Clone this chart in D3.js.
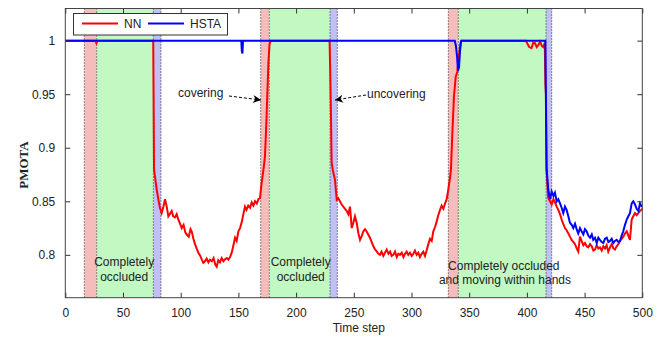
<!DOCTYPE html>
<html>
<head>
<meta charset="utf-8">
<script src="https://cdn.jsdelivr.net/npm/d3@7"></script>
<style>
  body { margin: 0; background: #fff; }
  svg { display: block; font-family: "Liberation Sans", Arial, sans-serif; }
  .tick text { font-size: 12px; fill: #222; }
  .note { font-size: 12px; fill: #222; }
</style>
</head>
<body>
<svg width="668" height="337"></svg>
<script>
// episode boundaries (time steps)
const coverStart   = [16.5, 169.3, 331.9];
const occludeStart = [27.2, 176.8, 340.6];
const uncoverStart = [76.3, 229.4, 416.6];
const uncoverEnd   = [82.9, 235.7, 421.5];

const xTicks = [0, 50, 100, 150, 200, 250, 300, 350, 400, 450, 500];
const yTicks = [0.8, 0.85, 0.9, 0.95, 1];

// NN series [time step, PMOTA]
const nnSeries = [
  [0,1],[26,1],[27,0.9975],[28,1],[76.2,1],[76.5,0.95],[76.9,0.8795],[77.7,0.873],[79.2,0.861],
  [80.6,0.852],[82,0.844],[83.5,0.839],[85,0.845],[86.4,0.852],[87.9,0.845],[89.3,0.836],
  [90.5,0.838],[92.2,0.841],[93.5,0.836],[95,0.835],[96.5,0.838],[97.9,0.833],[99.5,0.829],
  [100.9,0.825],[102.5,0.828],[104,0.821],[105.2,0.819],[107,0.817],[108.5,0.824],[109.5,0.822],
  [111,0.815],[112.4,0.810],[113.8,0.806],[115.3,0.802],[117,0.799],[118.5,0.795],[119.6,0.7925],
  [121,0.794],[122.5,0.7965],[124,0.793],[125.4,0.7955],[127,0.794],[128.5,0.797],[130,0.791],
  [131.2,0.789],[132.5,0.795],[134,0.793],[135.5,0.797],[137,0.794],[138.5,0.796],[140,0.797],
  [141.3,0.7955],[142.8,0.798],[144.2,0.802],[145.5,0.808],[147.1,0.816],[148.5,0.813],
  [150,0.822],[151.4,0.825],[153,0.831],[154.3,0.838],[155.7,0.845],[157,0.842],[158.5,0.846],
  [160.1,0.844],[161.5,0.849],[163,0.846],[164.4,0.850],[166,0.848],[167.3,0.852],[168.7,0.853],
  [170,0.866],[171,0.874],[172,0.882],[173,0.892],[174,0.917],[175,0.948],[176,0.979],
  [177,0.997],[178,1],[229,1],[229.5,0.975],[230.2,0.932],[230.8,0.886],[232,0.878],
  [233.7,0.870],[235.2,0.8515],[236.5,0.853],[238,0.850],[239.5,0.847],[240.9,0.845],
  [242.4,0.843],[243.9,0.841],[245.3,0.838],[246.7,0.845],[248.2,0.825],[249.6,0.830],
  [251,0.836],[252.5,0.830],[254,0.820],[255.4,0.814],[257,0.818],[258.3,0.822],[259.7,0.824],
  [261,0.822],[262.5,0.819],[264,0.816],[265.5,0.812],[267,0.808],[268.4,0.805],[270,0.803],
  [271.3,0.801],[272.7,0.800],[274,0.803],[275.6,0.799],[277,0.802],[278.5,0.805],[280,0.801],
  [281.4,0.803],[282.8,0.799],[284.2,0.800],[285.7,0.803],[287.2,0.798],[288.6,0.801],
  [290,0.800],[291.5,0.802],[293,0.798],[294.4,0.801],[295.8,0.803],[297.2,0.800],[298.7,0.802],
  [300.2,0.799],[301.6,0.801],[303,0.804],[304.5,0.800],[305.9,0.802],[307.3,0.798],
  [308.8,0.801],[310.2,0.803],[311.7,0.799],[313.1,0.804],[314.6,0.810],[316,0.815],
  [317.5,0.813],[318.9,0.822],[320.4,0.826],[321.8,0.831],[323.2,0.837],[324.7,0.842],
  [326.1,0.846],[327.6,0.843],[329.1,0.848],[330.5,0.852],[331.9,0.861],[333.4,0.872],
  [334.2,0.880],[335.4,0.914],[336.8,0.948],[338.3,0.966],[339.7,0.971],[341,0.985],
  [342.5,0.998],[343.5,1],[399,1],[400,0.998],[402,0.994],[404,0.993],[405.5,0.998],
  [407,0.9976],[408.5,0.994],[410,0.996],[411.4,0.999],[413,0.995],[414.3,0.994],[415.5,0.998],
  [416,0.96],[416.5,0.95],[417,0.88],[418.5,0.853],[420,0.850],[421.5,0.847],[423,0.852],
  [424.3,0.849],[425.8,0.845],[427.2,0.842],[428.7,0.838],[430.1,0.833],[431.5,0.829],
  [433,0.825],[434.4,0.823],[435.9,0.820],[437.3,0.817],[438.8,0.814],[440.2,0.812],
  [441.7,0.810],[443.1,0.806],[444.5,0.803],[446,0.817],[447.4,0.813],[448.9,0.809],
  [450.3,0.811],[451.8,0.808],[453.2,0.807],[454.7,0.810],[456.2,0.808],[457.6,0.804],
  [459,0.805],[460.5,0.809],[461.9,0.806],[463.3,0.807],[464.8,0.804],[466.2,0.808],
  [467.7,0.806],[469.1,0.809],[470.5,0.803],[472,0.807],[473.5,0.810],[474.9,0.806],
  [476.3,0.805],[477.8,0.808],[479.2,0.810],[480.7,0.813],[482.1,0.815],[483.5,0.817],
  [485,0.820],[486.5,0.822],[487.9,0.818],[489.3,0.814],[490.8,0.833],[492.2,0.836],
  [493.7,0.839],[495.1,0.837],[496.6,0.839],[498,0.841],[499,0.842],[500,0.843]
];

// HSTA series [time step, PMOTA]
const hstaSeries = [
  [0,1],[152.5,1],[153,0.99],[153.5,0.988],[154,1],[337.5,1],[338.5,0.995],[339.5,0.985],
  [340.3,0.972],[341.2,0.975],[342,0.99],[343,1],[416,1],[416.4,0.955],[416.8,0.905],
  [417.1,0.8795],[418.5,0.861],[420,0.852],[421.5,0.859],[423,0.855],[424.3,0.858],
  [425.8,0.850],[427.2,0.852],[428.7,0.848],[430.1,0.844],[431.5,0.839],[433,0.845],
  [434.4,0.842],[435.9,0.836],[437.3,0.830],[438.8,0.828],[440.2,0.825],[441.7,0.829],
  [443.1,0.824],[444.5,0.820],[446,0.825],[447.4,0.822],[448.9,0.819],[450.3,0.824],
  [451.8,0.822],[453.2,0.818],[454.7,0.816],[456.2,0.819],[457.5,0.814],[459,0.816],
  [460.5,0.811],[461.9,0.816],[463.3,0.814],[464.8,0.812],[466.2,0.811],[467.7,0.815],
  [469.2,0.816],[470.6,0.812],[472,0.813],[473.5,0.815],[474.9,0.811],[476.3,0.813],
  [477.8,0.814],[479.2,0.812],[480.7,0.813],[482.1,0.818],[483.5,0.822],[485,0.828],
  [486.5,0.833],[487.9,0.836],[489.3,0.839],[490.8,0.848],[492.2,0.850],[493.7,0.847],
  [495.1,0.843],[496.6,0.841],[498,0.848],[499,0.846],[500,0.845]
];

const svg = d3.select('svg');
const plotLeft = 65.3, plotRight = 642.3, plotTop = 8.5, plotBottom = 297.7;

const xScale = d3.scaleLinear().domain([0, 500]).range([plotLeft, plotRight]);
const yScale = d3.scaleLinear().domain([0.76, 1.03]).range([plotBottom, plotTop]);

// shaded episodes
const bands = svg.append('g');
coverStart.forEach((s, i) => {
  const spans = [
    [s, occludeStart[i], '#f5bcbc'],
    [occludeStart[i], uncoverStart[i], '#c2f8c2'],
    [uncoverStart[i], uncoverEnd[i], '#c0c0f6']
  ];
  spans.forEach(([a, b, c]) => {
    bands.append('rect')
      .attr('x', xScale(a)).attr('y', plotTop)
      .attr('width', xScale(b) - xScale(a))
      .attr('height', plotBottom - plotTop)
      .attr('fill', c);
  });
});

// dotted boundaries
const bounds = [...coverStart, ...occludeStart, ...uncoverStart, ...uncoverEnd];
svg.append('g').selectAll('line').data(bounds).enter().append('line')
  .attr('x1', d => xScale(d)).attr('x2', d => xScale(d))
  .attr('y1', plotTop).attr('y2', plotBottom)
  .attr('stroke', '#222').attr('stroke-width', 1)
  .attr('stroke-dasharray', '1,2');

// series
const line = d3.line().x(d => xScale(d[0])).y(d => yScale(d[1]));
svg.append('path').datum(nnSeries).attr('d', line)
  .attr('fill', 'none').attr('stroke', '#ff0000').attr('stroke-width', 2);
svg.append('path').datum(hstaSeries).attr('d', line)
  .attr('fill', 'none').attr('stroke', '#0000ff').attr('stroke-width', 2);

// axes, MATLAB style inward ticks
const xAxis = svg.append('g').attr('transform', `translate(0,${plotBottom})`)
  .call(d3.axisBottom(xScale).tickValues(xTicks).tickSize(-5).tickPadding(11));
const xTop = svg.append('g').attr('transform', `translate(0,${plotTop})`)
  .call(d3.axisTop(xScale).tickValues(xTicks).tickSize(-5).tickFormat(''));
const yAxis = svg.append('g').attr('transform', `translate(${plotLeft},0)`)
  .call(d3.axisLeft(yScale).tickValues(yTicks).tickSize(-5).tickPadding(10)
    .tickFormat(d => String(d)));
const yRight = svg.append('g').attr('transform', `translate(${plotRight},0)`)
  .call(d3.axisRight(yScale).tickValues(yTicks).tickSize(-5).tickFormat(''));
[xAxis, xTop, yAxis, yRight].forEach(a => {
  a.select('.domain').remove();
  a.selectAll('.tick line').attr('stroke', '#333');
});

svg.append('rect')
  .attr('x', plotLeft).attr('y', plotTop)
  .attr('width', plotRight - plotLeft).attr('height', plotBottom - plotTop)
  .attr('fill', 'none').attr('stroke', '#444').attr('stroke-width', 1);

// labels
svg.append('text')
  .attr('x', (plotLeft + plotRight) / 2 + 5).attr('y', 332)
  .attr('text-anchor', 'middle').style('font-size', '12px').attr('fill', '#222')
  .text('Time step');

svg.append('text')
  .attr('transform', 'translate(28,165) rotate(-90)')
  .attr('text-anchor', 'middle')
  .style('font-family', '"Liberation Serif", "Times New Roman", serif')
  .style('font-weight', 'bold').style('font-size', '13px').attr('fill', '#222')
  .text('PMOTA');

// occlusion notes
const notes = [
  [51, 266, 'Completely'], [51, 281, 'occluded'],
  [204, 266, 'Completely'], [204, 281, 'occluded'],
  [380, 270, 'Completely occluded'], [381, 284, 'and moving within hands']
];
svg.append('g').selectAll('text').data(notes).enter().append('text')
  .attr('class', 'note')
  .attr('x', d => xScale(d[0])).attr('y', d => d[1])
  .attr('text-anchor', 'middle')
  .text(d => d[2]);

// arrows
const defs = svg.append('defs');
defs.append('marker').attr('id', 'head')
  .attr('viewBox', '0 0 10 10').attr('refX', 10).attr('refY', 5)
  .attr('markerWidth', 12).attr('markerHeight', 8).attr('markerUnits', 'userSpaceOnUse')
  .attr('orient', 'auto')
  .append('path').attr('d', 'M0,0 L10,5 L0,10 L3,5 Z').attr('fill', '#000');

svg.append('text').attr('class', 'note')
  .attr('x', 178).attr('y', 97).text('covering');
svg.append('line')
  .attr('x1', 229).attr('y1', 96).attr('x2', 261).attr('y2', 100)
  .attr('stroke', '#000').attr('stroke-dasharray', '3,2')
  .attr('marker-end', 'url(#head)');

svg.append('text').attr('class', 'note')
  .attr('x', 367).attr('y', 98).text('uncovering');
svg.append('line')
  .attr('x1', 366).attr('y1', 95).attr('x2', 335).attr('y2', 100)
  .attr('stroke', '#000').attr('stroke-dasharray', '3,2')
  .attr('marker-end', 'url(#head)');

// legend
const legend = svg.append('g');
legend.append('rect')
  .attr('x', 73.5).attr('y', 13.5).attr('width', 154).attr('height', 21.5)
  .attr('fill', '#fff').attr('stroke', '#333');
const legendItems = [['NN', '#ff0000', 82, 124], ['HSTA', '#0000ff', 148, 190]];
legendItems.forEach(([name, color, lx, tx]) => {
  legend.append('line')
    .attr('x1', lx).attr('x2', lx + 36).attr('y1', 23.5).attr('y2', 23.5)
    .attr('stroke', color).attr('stroke-width', 2);
  legend.append('text').attr('class', 'note')
    .attr('x', tx).attr('y', 28).text(name);
});
</script>
</body>
</html>
